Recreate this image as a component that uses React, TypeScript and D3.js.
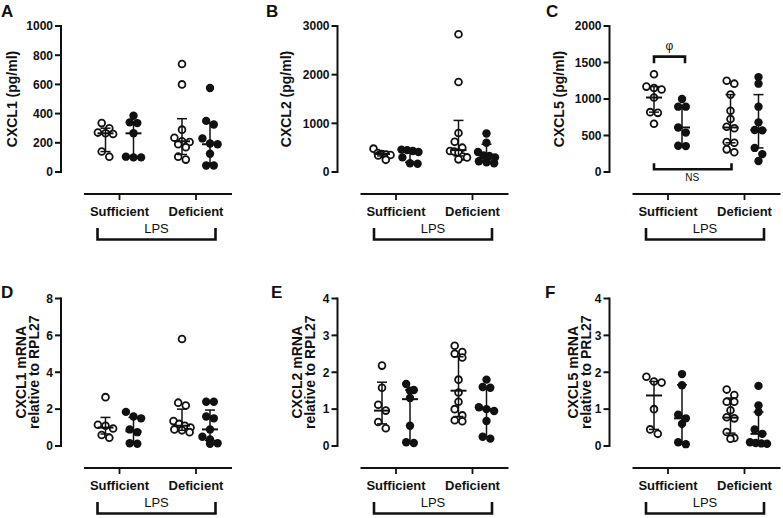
import React from "react";
import * as d3 from "d3";

// ---------- data ----------
const groups = ["Sufficient", "Deficient"];
const panelLetters = ["A", "B", "C", "D", "E", "F"];
const yTitles = [
  ["CXCL1 (pg/ml)"],
  ["CXCL2 (pg/ml)"],
  ["CXCL5 (pg/ml)"],
  ["CXCL1 mRNA", "relative to RPL27"],
  ["CXCL2 mRNA", "relative to RPL27"],
  ["CXCL5 mRNA", "relative to PRL27"],
];
const yMax = [1000, 3000, 2000, 8, 4, 4];
const yTicks = [
  [0, 200, 400, 600, 800, 1000],
  [0, 1000, 2000, 3000],
  [0, 500, 1000, 1500, 2000],
  [0, 2, 4, 6, 8],
  [0, 1, 2, 3, 4],
  [0, 1, 2, 3, 4],
];
// series order: Sufficient (open), Sufficient (filled), Deficient (open), Deficient (filled)
const A_points = [
  [335, 300, 270, 265, 260, 140, 105],
  [385, 340, 335, 265, 105, 100, 100],
  [740, 600, 290, 235, 210, 205, 190, 170, 105, 85],
  [575, 350, 325, 230, 195, 190, 125, 45, 45],
];
const A_center = [265, 265, 210, 190];
const A_low = [140, 100, 120, 60];
const A_high = [300, 340, 365, 335];

const B_points = [
  [480, 390, 370, 360, 350, 340, 250],
  [460, 450, 430, 410, 300, 180, 170],
  [2830, 1850, 800, 620, 500, 430, 420, 400, 320, 300, 260],
  [790, 600, 410, 340, 330, 300, 220, 200, 180],
];
const B_center = [370, 410, 450, 300];
const B_low = [330, 200, 330, 220];
const B_high = [420, 440, 1060, 570];

const C_points = [
  [1340, 1170, 1150, 1130, 1020, 820, 810, 660],
  [1000, 895, 895, 610, 540, 360, 355],
  [1250, 1210, 1060, 840, 725, 620, 600, 410, 400, 310, 270],
  [1300, 1210, 895, 680, 575, 570, 330, 245, 150],
];
const C_center = [1020, 610, 610, 575];
const C_low = [820, 358, 400, 330];
const C_high = [1170, 895, 1060, 1060];

const D_points = [
  [2.65, 1.15, 1.1, 0.95, 0.6, 0.45],
  [1.85, 1.6, 1.5, 0.9, 0.75, 0.15, 0.12],
  [5.8, 2.35, 2.2, 1.35, 1.2, 1.1, 1.0, 0.9, 0.85, 0.75],
  [2.4, 2.4, 1.6, 1.5, 0.9, 0.5, 0.35, 0.15, 0.12],
];
const D_center = [1.0, 0.8, 1.1, 0.9];
const D_low = [0.65, 0.2, 0.85, 0.3];
const D_high = [1.55, 1.55, 2.0, 1.95];

const E_points = [
  [2.18, 1.58, 1.12, 0.96, 0.65, 0.48],
  [1.68, 1.52, 1.5, 1.3, 0.55, 0.1, 0.08],
  [2.72, 2.55, 2.5, 2.4, 1.8, 1.45, 1.2, 1.0, 0.83, 0.7, 0.67],
  [1.8, 1.6, 1.58, 1.05, 1.0, 0.95, 0.68, 0.25, 0.2],
];
const E_center = [0.96, 1.27, 1.5, 1.0];
const E_low = [0.6, 0.1, 0.8, 0.25];
const E_high = [1.73, 1.52, 2.42, 1.55];

const F_points = [
  [1.88, 1.75, 1.72, 1.0, 0.45, 0.33],
  [1.95, 1.65, 0.85, 0.75, 0.6, 0.1, 0.05],
  [1.53, 1.38, 1.2, 1.2, 0.97, 0.78, 0.75, 0.38, 0.22, 0.2],
  [1.63, 1.1, 0.92, 0.45, 0.33, 0.1, 0.08, 0.07, 0.06],
];
const F_center = [1.37, 0.75, 0.77, 0.33];
const F_low = [0.45, 0.05, 0.35, 0.08];
const F_high = [1.75, 1.66, 1.3, 0.92];

const allPoints = [A_points, B_points, C_points, D_points, E_points, F_points];
const allCenter = [A_center, B_center, C_center, D_center, E_center, F_center];
const allLow = [A_low, B_low, C_low, D_low, E_low, F_low];
const allHigh = [A_high, B_high, C_high, D_high, E_high, F_high];

// panel C annotations (values)
const phiBracket = [1580, 1490];
const nsBracket = [37, 120];

// ---------- layout ----------
const W = 783;
const H = 518;
const colAxisX = [61, 337.5, 609.5];
const rowTopY = [26, 298.5];
const rowZeroY = [172, 446];
const letterPos = [
  [1, 17],
  [266, 17],
  [546, 17],
  [1, 298],
  [271, 298],
  [545, 298],
];
const titleOffsets = [[-49], [-52], [-51], [-40.5, -27], [-41, -28], [-37, -23.5]];
const FONT = "Arial, 'Liberation Sans', Helvetica, sans-serif";
const INK = "#111";

function swarm(values: number[], y: (v: number) => number, cx: number) {
  const minDy = 6.5;
  const sorted = values.map((v) => ({ v, py: y(v) })).sort((a, b) => a.py - b.py);
  const out: { cx: number; cy: number }[] = [];
  let i = 0;
  while (i < sorted.length) {
    let j = i + 1;
    while (j < sorted.length && sorted[j].py - sorted[i].py < minDy) j++;
    const row = sorted.slice(i, j);
    const n = row.length;
    const spacing = n > 1 ? Math.min(7.6, 17 / (n - 1)) : 0;
    row.forEach((p, k) => out.push({ cx: cx + (k - (n - 1) / 2) * spacing, cy: p.py }));
    i = j;
  }
  return out;
}

function Panel({ idx }: { idx: number }) {
  const col = idx % 3;
  const row = Math.floor(idx / 3);
  const axisX = colAxisX[col];
  const topY = rowTopY[row];
  const zeroY = rowZeroY[row];
  const y = d3.scaleLinear().domain([0, yMax[idx]]).range([zeroY, topY]);
  const x = d3.scalePoint<string>().domain(groups).range([axisX + 58.5, axisX + 135]);
  const sub = 14;
  const seriesX = [
    (x("Sufficient") as number) - sub,
    (x("Sufficient") as number) + sub,
    (x("Deficient") as number) - sub,
    (x("Deficient") as number) + sub,
  ];
  const xAxisY = zeroY + 22;
  const titleCY = (topY + zeroY) / 2;
  const lines = yTitles[idx];
  const offs = titleOffsets[idx];

  return (
    <g>
      <text
        x={letterPos[idx][0]}
        y={letterPos[idx][1]}
        fontFamily={FONT}
        fontWeight="bold"
        fontSize={17}
        fill={INK}
      >
        {panelLetters[idx]}
      </text>
      {/* y axis */}
      <line x1={axisX} x2={axisX} y1={y(0) + 1} y2={y(yMax[idx]) - 1} stroke={INK} strokeWidth={2} />
      {yTicks[idx].map((t) => (
        <g key={t}>
          <line x1={axisX - 6} x2={axisX} y1={y(t)} y2={y(t)} stroke={INK} strokeWidth={2} />
          <text
            x={axisX - 8}
            y={y(t)}
            dy="0.36em"
            textAnchor="end"
            fontFamily={FONT}
            fontWeight="bold"
            fontSize={12}
            fill={INK}
          >
            {t}
          </text>
        </g>
      ))}
      {lines.map((ln, k) => (
        <text
          key={k}
          transform={`translate(${axisX + offs[k]},${titleCY}) rotate(-90)`}
          dy="0.36em"
          textAnchor="middle"
          fontFamily={FONT}
          fontWeight="bold"
          fontSize={14}
          fill={INK}
        >
          {ln}
        </text>
      ))}
      {/* x axis */}
      <line x1={axisX + 23} x2={axisX + 171} y1={xAxisY} y2={xAxisY} stroke={INK} strokeWidth={1.8} />
      {groups.map((g) => (
        <g key={g}>
          <line
            x1={x(g)}
            x2={x(g)}
            y1={xAxisY}
            y2={xAxisY + 6}
            stroke={INK}
            strokeWidth={1.8}
          />
          <text
            x={x(g)}
            y={zeroY + 44}
            textAnchor="middle"
            fontFamily={FONT}
            fontWeight="bold"
            fontSize={13}
            fill={INK}
          >
            {g}
          </text>
        </g>
      ))}
      <text
        x={axisX + 95.5}
        y={zeroY + 60.5}
        textAnchor="middle"
        fontFamily={FONT}
        fontSize={13}
        fill={INK}
      >
        LPS
      </text>
      <path
        d={`M${axisX + 36.5},${zeroY + 56}V${zeroY + 67.5}H${axisX + 154.5}V${zeroY + 56}`}
        fill="none"
        stroke={INK}
        strokeWidth={2.6}
      />
      {/* points */}
      {allPoints[idx].map((vals, s) =>
        swarm(vals, y, seriesX[s]).map((p, k) =>
          s % 2 === 0 ? (
            <circle
              key={`${s}-${k}`}
              cx={p.cx}
              cy={p.cy}
              r={3.4}
              fill="#fff"
              stroke={INK}
              strokeWidth={1.8}
            />
          ) : (
            <circle key={`${s}-${k}`} cx={p.cx} cy={p.cy} r={4.2} fill={INK} />
          )
        )
      )}
      {/* error bars */}
      {seriesX.map((sx, s) => (
        <g key={`eb${s}`} stroke={INK}>
          <line x1={sx} x2={sx} y1={y(allLow[idx][s])} y2={y(allHigh[idx][s])} strokeWidth={1.5} />
          <line
            x1={sx - 5}
            x2={sx + 5}
            y1={y(allHigh[idx][s])}
            y2={y(allHigh[idx][s])}
            strokeWidth={1.5}
          />
          <line
            x1={sx - 5}
            x2={sx + 5}
            y1={y(allLow[idx][s])}
            y2={y(allLow[idx][s])}
            strokeWidth={1.5}
          />
          <line
            x1={sx - 8}
            x2={sx + 8}
            y1={y(allCenter[idx][s])}
            y2={y(allCenter[idx][s])}
            strokeWidth={2}
          />
        </g>
      ))}
      {idx === 2 && (
        <g>
          <path
            d={`M${seriesX[0]},${y(phiBracket[1])}V${y(phiBracket[0])}H${seriesX[1] + 3}V${y(phiBracket[1])}`}
            fill="none"
            stroke={INK}
            strokeWidth={2.6}
          />
          <text
            x={(seriesX[0] + seriesX[1] + 3) / 2}
            y={y(phiBracket[0]) - 7}
            textAnchor="middle"
            fontFamily={FONT}
            fontSize={12}
            fill={INK}
          >
            φ
          </text>
          <path
            d={`M${seriesX[0]},${y(nsBracket[1])}V${y(nsBracket[0])}H${seriesX[2] + 1}V${y(nsBracket[1])}`}
            fill="none"
            stroke={INK}
            strokeWidth={2.6}
          />
          <text
            x={(seriesX[0] + seriesX[2]) / 2}
            y={y(nsBracket[0]) + 12}
            textAnchor="middle"
            fontFamily={FONT}
            fontSize={10}
            fill={INK}
          >
            NS
          </text>
        </g>
      )}
    </g>
  );
}

export default function App() {
  return (
    <svg
      width={W}
      height={H}
      viewBox={`0 0 ${W} ${H}`}
      style={{ position: "absolute", left: 0, top: 0, background: "#fff" }}
    >
      <rect width={W} height={H} fill="#fff" />
      {panelLetters.map((_, i) => (
        <Panel key={i} idx={i} />
      ))}
    </svg>
  );
}
